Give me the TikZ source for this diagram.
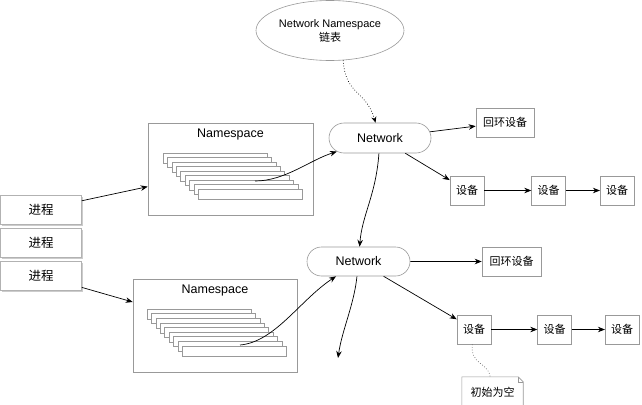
\documentclass[tikz,border=0pt]{standalone}
\usepackage{fontspec}
\setmainfont{Liberation Sans}
\newfontfamily\cjk{Noto Sans CJK SC}
\usetikzlibrary{positioning,arrows.meta,shapes.geometric,shapes.misc,shadows}

\begin{document}
\begin{tikzpicture}[x=1pt,y=-1pt,
    box/.style={draw=black!40,line width=0.6pt,fill=white,inner sep=0pt,minimum width=34pt,minimum height=29pt,font={\cjk\fontsize{11}{13}\selectfont}},
    pill/.style={draw=black!40,line width=0.6pt,fill=white,rounded rectangle,inner sep=0pt,minimum width=102pt,minimum height=30pt,font=\fontsize{12.5}{15}\selectfont},
    proc/.style={draw=black!30,line width=0.6pt,fill=white,inner sep=0pt,minimum width=81pt,minimum height=29pt,font={\cjk\fontsize{12.5}{15}\selectfont},drop shadow={shadow xshift=1pt,shadow yshift=-1.5pt,fill=black!50,opacity=0.4}},
    nsbox/.style={draw=black!40,line width=0.6pt,fill=white,inner sep=0pt},
    plate/.style={draw=black!40,line width=0.6pt,fill=white},
    arr/.style={draw=black,line width=0.7pt,-{Stealth[length=7pt,width=5.5pt]}},
    dotarr/.style={draw=black,line width=0.7pt,dotted,-{Stealth[length=6pt,width=5pt]}}]
    \useasboundingbox (0,0) rectangle (642,404);
    \clip (0,0) rectangle (642,404);

    % list head
    \node[ellipse,draw=black!40,line width=0.6pt,fill=white,minimum width=148pt,minimum height=60pt,inner sep=0pt,align=center,font=\fontsize{11}{14}\selectfont] (nns) at (330,30.5) {Network Namespace\\{\cjk 链表}};

    % processes
    \node[proc] (p1) at (41,209.5) {进程};
    \node[proc,below=4pt of p1] (p2) {进程};
    \node[proc,below=3pt of p2] (p3) {进程};

    % namespace boxes with their stacks
    \node[nsbox,minimum width=165pt,minimum height=92pt] (ns1) at (230.5,169) {};
    \node[below=6pt of ns1.north,inner sep=0pt,font=\fontsize{12.5}{15}\selectfont] (ns1t) {Namespace};
    \foreach \i in {0,...,8}
        \draw[plate] (163+4.4*\i,153+4.5*\i) rectangle ++(104,10);
    \coordinate (ns1c) at (255,181);

    \node[nsbox,minimum width=164pt,minimum height=93pt] (ns2) at (215,325.5) {};
    \node[below=6pt of ns2.north,inner sep=0pt,font=\fontsize{12.5}{15}\selectfont] (ns2t) {Namespace};
    \foreach \i in {0,...,8}
        \draw[plate] (147+4.4*\i,309+4.6*\i) rectangle ++(104,10);
    \coordinate (ns2c) at (240,345);

    % networks
    \node[pill] (net1) at (380,138) {Network};
    \node[pill,minimum width=103pt,minimum height=29pt] (net2) at (358.5,261.5) {Network};
    \coordinate (nend) at (338,358);

    % devices
    \node[box,minimum width=58pt] (lo1) at (505,122.5) {回环设备};
    \node[box] (d11) at (467,190.5) {设备};
    \node[box,right=47pt of d11] (d12) {设备};
    \node[box,right=34pt of d12] (d13) {设备};

    \node[box,minimum width=59pt] (lo2) at (511.5,261.5) {回环设备};
    \node[box] (d21) at (474,329.5) {设备};
    \node[box,right=46pt of d21] (d22) {设备};
    \node[box,right=33pt of d22] (d23) {设备};

    % note
    \node[inner sep=0pt,minimum width=61pt,minimum height=30pt,font={\cjk\fontsize{11}{13}\selectfont}] (note) at (492.5,392) {初始为空};
    \draw[draw=black!40,line width=0.6pt,fill=white] (note.south west) -- (note.north west) -- ([xshift=-5pt]note.north east) -- ([yshift=-5pt]note.north east) -- (note.south east);
    \draw[draw=black!40,line width=0.6pt] ([xshift=-5pt]note.north east) -- ([xshift=-5pt,yshift=-5pt]note.north east) -- ([yshift=-5pt]note.north east);
    \node[inner sep=0pt,font={\cjk\fontsize{11}{13}\selectfont}] at (note) {初始为空};

    % connectors
    \draw[dotarr] (nns.-66) .. controls (345,95) and (366,90) .. (net1);
    \draw[arr] (p1) -- (ns1);
    \draw[arr] (p3) -- (ns2);
    \draw[arr] (ns1c) .. controls (285,181) and (310,160) .. (net1);
    \draw[arr] (ns2c) .. controls (275,342) and (300,300) .. (net2);
    \draw[arr] (net1) -- (lo1);
    \draw[arr] (net1) -- (d11);
    \draw[arr] (d11) -- (d12);
    \draw[arr] (d12) -- (d13);
    \draw[arr] (net1) .. controls (376,195) and (362,215) .. (net2);
    \draw[arr] (net2) -- (lo2);
    \draw[arr] (net2) -- (d21);
    \draw[arr] (d21) -- (d22);
    \draw[arr] (d22) -- (d23);
    \draw[arr] (net2) .. controls (354,305) and (342,330) .. (nend);
    \draw[draw=black!60,line width=0.7pt,dotted] (d21) .. controls (470,365) and (488,362) .. (note);
\end{tikzpicture}
\end{document}
